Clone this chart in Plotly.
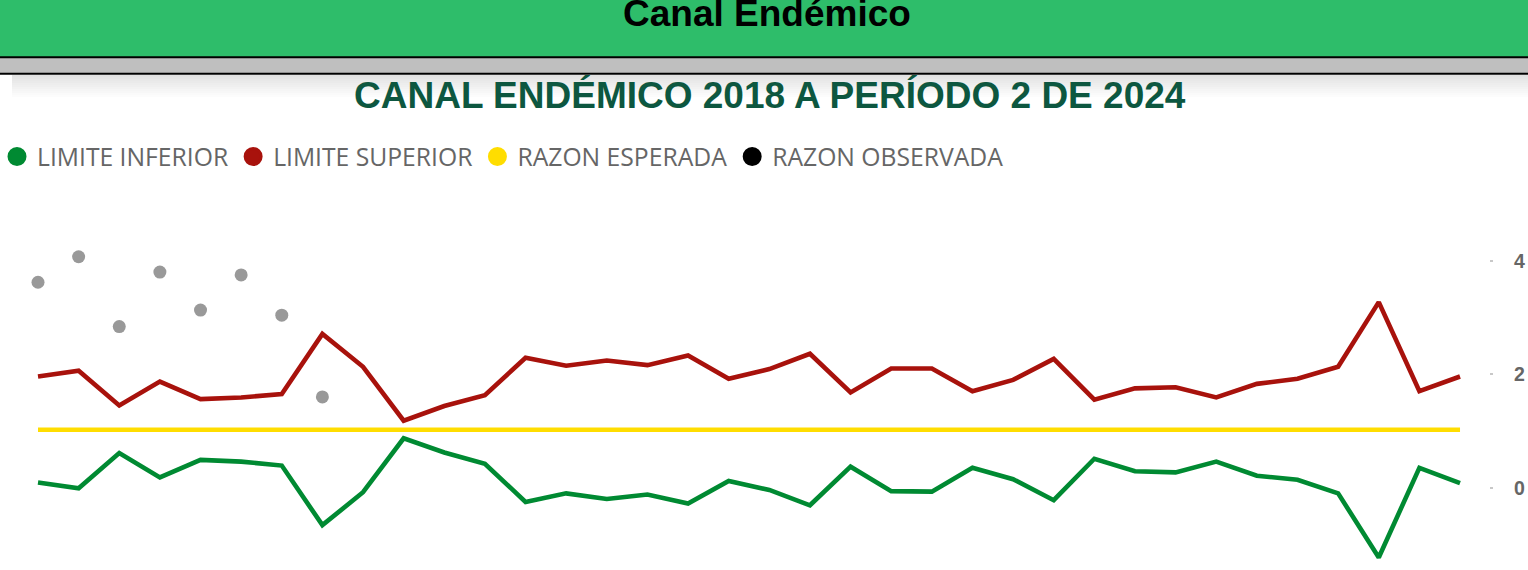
import plotly.graph_objects as go

# ---------------- data ----------------
periods = list(range(1, 37))
limite_superior = [1.96, 2.06, 1.45, 1.87, 1.56, 1.59, 1.65, 2.71, 2.13, 1.18, 1.44, 1.63,
                   2.29, 2.15, 2.24, 2.16, 2.33, 1.92, 2.09, 2.36, 1.68, 2.10, 2.10, 1.70,
                   1.90, 2.27, 1.55, 1.75, 1.77, 1.59, 1.83, 1.92, 2.13, 3.27, 1.70, 1.96]
limite_inferior = [0.09, -0.01, 0.61, 0.18, 0.49, 0.46, 0.39, -0.66, -0.08, 0.87, 0.62, 0.42,
                   -0.25, -0.10, -0.20, -0.12, -0.28, 0.12, -0.04, -0.31, 0.37, -0.06, -0.07, 0.35,
                   0.15, -0.22, 0.51, 0.29, 0.27, 0.46, 0.21, 0.14, -0.10, -1.23, 0.35, 0.08]
razon_esperada = [1.02] * 36
razon_observada = [3.62, 4.07, 2.84, 3.80, 3.13, 3.75, 3.04, 1.60]
y_ticks = [0, 2, 4]

legend_names = ["LIMITE INFERIOR", "LIMITE SUPERIOR", "RAZON ESPERADA", "RAZON OBSERVADA"]
legend_colors = ["#008A32", "#A8120C", "#FFDD00", "#000000"]

# ---------------- figure ----------------
W, H = 1528, 570
L, R, T, B = 0, 39, 190, 0
plot_w, plot_h = W - L - R, H - T - B

def px(xpx):
    return (xpx - L) / plot_w

def py(ypx):
    return (H - B - ypx) / plot_h

fig = go.Figure()

x_idx = [p - 1 for p in periods]
fig.add_trace(go.Scatter(x=x_idx, y=limite_inferior, mode="lines", name=legend_names[0],
                         line=dict(color=legend_colors[0], width=4.6), showlegend=False))
fig.add_trace(go.Scatter(x=x_idx, y=limite_superior, mode="lines", name=legend_names[1],
                         line=dict(color=legend_colors[1], width=4.6), showlegend=False))
fig.add_trace(go.Scatter(x=x_idx, y=razon_esperada, mode="lines", name=legend_names[2],
                         line=dict(color=legend_colors[2], width=4.6), showlegend=False))
fig.add_trace(go.Scatter(x=x_idx[:len(razon_observada)], y=razon_observada, mode="markers",
                         name=legend_names[3], marker=dict(color="#999999", size=13),
                         showlegend=False))

for name, col in zip(legend_names, legend_colors):
    fig.add_trace(go.Scatter(x=[None], y=[None], mode="markers", name=name,
                             marker=dict(color=col, size=16, line=dict(color=col, width=3)),
                             showlegend=True))

shapes = []
# green header band
shapes.append(dict(type="rect", xref="paper", yref="paper", x0=px(-2), x1=px(W + 2),
                   y0=py(57), y1=py(-5), fillcolor="#2EBD6A", line_width=0, layer="below"))
# gray band
shapes.append(dict(type="rect", xref="paper", yref="paper", x0=px(-2), x1=px(W + 2),
                   y0=py(73), y1=py(57.5), fillcolor="#BFBFBF", line_width=0, layer="below"))
# soft shadow under the band
for i in range(11):
    y0 = 75 + i * 2
    op = 0.30 * (1 - i / 11)
    shapes.append(dict(type="rect", xref="paper", yref="paper", x0=px(12), x1=px(W + 2),
                       y0=py(y0 + 2), y1=py(y0), fillcolor="#A0A0A0", opacity=op,
                       line_width=0, layer="below"))
# black rules
for yl in (57.2, 73.7):
    shapes.append(dict(type="line", xref="paper", yref="paper", x0=px(-2), x1=px(W + 2),
                       y0=py(yl), y1=py(yl), line=dict(color="#000000", width=2)))

annotations = [
    dict(text="<b>Canal Endémico</b>", x=px(767), y=py(14), xref="paper", yref="paper",
         xanchor="center", yanchor="middle", showarrow=False,
         font=dict(family="Liberation Sans, Arial", size=37, color="#000000")),
    dict(text="<b>CANAL ENDÉMICO 2018 A PERÍODO 2 DE 2024</b>", x=px(770), y=py(96),
         xref="paper", yref="paper", xanchor="center", yanchor="middle", showarrow=False,
         font=dict(family="Liberation Sans, Arial", size=37, color="#0D5740")),
]

sp = 40.629
xmin = -38 / sp
xmax = xmin + plot_w / sp
zero_px = 487.7
upu = 56.75
ymax = (zero_px - T) / upu
ymin = (zero_px - (H - B)) / upu

fig.update_layout(
    width=W, height=H,
    margin=dict(l=L, r=R, t=T, b=B, pad=0, autoexpand=False),
    paper_bgcolor="#FFFFFF", plot_bgcolor="#FFFFFF",
    shapes=shapes, annotations=annotations,
    showlegend=True,
    legend=dict(orientation="h", x=px(-3), y=py(157), xanchor="left", yanchor="middle",
                font=dict(family="Open Sans", size=24.7, color="#666666"),
                itemwidth=30, tracegroupgap=0, bgcolor="rgba(0,0,0,0)"),
    xaxis=dict(range=[xmin, xmax], visible=False, showgrid=False, zeroline=False),
    yaxis=dict(range=[ymin, ymax], side="right", tickvals=y_ticks,
               ticktext=[f"<b>{v}</b>" for v in y_ticks],
               showgrid=False, zeroline=False, showline=False,
               ticks="outside", ticklen=3, tickwidth=2, tickcolor="#C8C8C8",
               ticklabelstandoff=17,
               tickfont=dict(family="Liberation Sans, Arial", size=19.5, color="#666666")),
)

post = (
    "document.documentElement.style.margin='0';"
    "document.documentElement.style.padding='0';"
    "document.documentElement.style.overflow='hidden';"
    "document.body.style.margin='0';"
    "document.body.style.padding='0';"
    "document.body.style.overflow='hidden';"
    "var gd=document.querySelector('.plotly-graph-div');"
    "gd.style.position='absolute';gd.style.left='0px';gd.style.top='0px';"
)

fig.write_html("out.html", config={"displayModeBar": False}, post_script=post)
